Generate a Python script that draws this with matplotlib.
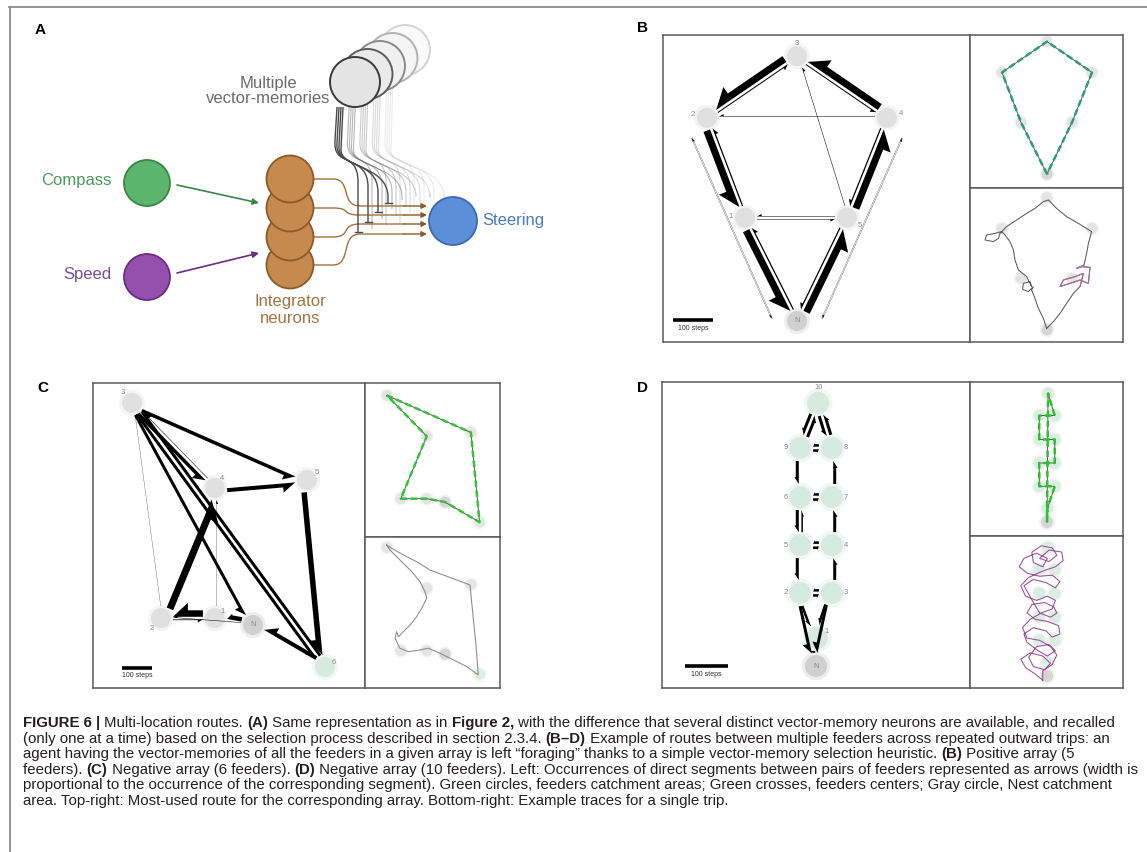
import numpy as np
import matplotlib
matplotlib.use('Agg')
import matplotlib.pyplot as plt
import matplotlib.patches as mpatches
from matplotlib.path import Path

W, H = 1147, 852
plt.rcParams['font.family'] = ['Liberation Sans', 'DejaVu Sans']

# ---------------- data ----------------
# panel A: circuit diagram (pixel layout of the original drawing)
a_inputs = ['Compass', 'Speed']
a_input_y = [183, 277]
a_integrator_y = [179, 208, 237, 265]
a_steer_in_y = [206, 215, 224, 234]
a_inhib_end_y = [232, 222, 212, 203]
a_memory_count = 5

# panel B: positive array (5 feeders), positions in steps, nest at origin
b_names = ['N', '1', '2', '3', '4', '5']
b_x = [0, -130, -225, 0, 225, 125]
b_y = [0, 258, 508, 662, 508, 258]
b_edges = [('3', '2', 28), ('2', '3', 4), ('4', '3', 28), ('3', '4', 4),
           ('2', '1', 28), ('1', '2', 5), ('5', '4', 28), ('4', '5', 5),
           ('1', 'N', 28), ('N', '1', 5), ('N', '5', 28), ('5', 'N', 5),
           ('4', '2', 2), ('1', '5', 2), ('5', '1', 2), ('5', '3', 2),
           ('2', 'N', 1), ('N', '2', 1), ('4', 'N', 1), ('N', '4', 1)]
b_route = ['N', '1', '2', '3', '4', '5', 'N']
b_trace_x = [-2, -18, -43, -60, -77, -68, -93, -122, -118, -85, -77, -102, -143, -160, -168, -185,
             -210, -227, -260, -302, -310, -268, -243, -235, -202, -152, -102, -60, -18, 7, 48, 98,
             157, 223, 207, 198, 185, 148, 173, 215, 207, 165, 65, 82, 140, 182, 165, 132, 98, 65,
             32, -2]
b_trace_y = [8, 58, 108, 158, 200, 217, 192, 203, 233, 242, 217, 267, 300, 350, 400, 442,
             475, 492, 483, 475, 450, 442, 458, 483, 517, 550, 583, 608, 642, 650, 608, 567,
             533, 492, 433, 383, 325, 308, 317, 313, 233, 250, 217, 250, 267, 283, 217, 183, 133, 83,
             42, 8]

# panel C: negative array (6 feeders)
c_names = ['N', '1', '2', '3', '4', '5', '6']
c_x = [0, -127, -307, -403, -127, 180, 240]
c_y = [0, 23, 23, 740, 457, 483, -140]
c_edges = [('3', '5', 14), ('3', '4', 14), ('4', '3', 2), ('4', '5', 16), ('5', '6', 22),
           ('2', '4', 28), ('1', '2', 26), ('2', '1', 3), ('N', '1', 18), ('6', 'N', 16),
           ('3', 'N', 12), ('3', '6', 12), ('6', '3', 12), ('2', '3', 1), ('1', '4', 1),
           ('N', '2', 2)]
c_route = ['3', '5', '6', 'N', '1', '2', '4', '3']
c_trace_x = [-405, -382, -359, -301, -231, -174, -139, -127, -162, -197, -243, -289, -324, -336,
             -347, -313, -255, -174, -116, -35, 58, 150, 231, 224, 215, 201, 185, 174, 81, -12,
             -104, -197, -289, -370, -405]
c_trace_y = [757, 722, 699, 641, 572, 503, 433, 387, 317, 259, 201, 155, 120, 155,
             109, 40, 16, 28, 40, 5, -41, -87, -145, -52, 63, 201, 363, 479, 514, 549,
             583, 641, 688, 734, 757]

# panel D: negative array (10 feeders)
d_names = ['N', '1', '2', '3', '4', '5', '6', '7', '8', '9', '10']
d_x = [0, 2, -37, 37, 37, -37, -37, 37, 37, -37, 5]
d_y = [0, 65, 170, 170, 281, 281, 393, 393, 507, 507, 612]
d_edges = [('10', '9', 12), ('9', '10', 12), ('10', '8', 12), ('8', '10', 12),
           ('9', '8', 10), ('8', '9', 10), ('9', '6', 12), ('7', '8', 12),
           ('6', '7', 10), ('7', '6', 10), ('6', '5', 12), ('5', '6', 6), ('4', '7', 12),
           ('5', '4', 10), ('4', '5', 10), ('5', '2', 12), ('3', '4', 12),
           ('2', '3', 10), ('3', '2', 10), ('2', 'N', 12), ('2', '1', 10), ('3', '1', 10),
           ('3', 'N', 12), ('1', 'N', 16)]
d_route = ['N', '1', '3', '2', '5', '4', '7', '6', '9', '8', '10', 'N']
d_trace_x = [-20, -57, -102, -125, -80, -20, 17, -12, -65, -87, -50, 10, 40, 2, -42, -95, -110,
             -65, -5, 25, 62, 55, 2, -57, -95, -72, -12, 32, 47, 17, -35, -65, -87, -110, -65, -5,
             40, 62, 25, -35, -95, -132, -110, -50, 2, -20, -65, -72, -27, 25, 47, 10, -35, 10, 70,
             77, 40, -20, -87, -125, -102, -50, 2, 40, 25, -27, -80, -117, -95, -35, 17, 47, 25,
             -20, -20]
d_trace_y = [-20, 10, 40, 80, 110, 95, 60, 30, 45, 90, 140, 150, 120, 95, 120, 160, 200, 230, 215,
             185, 200, 240, 260, 270, 300, 340, 350, 330, 300, 280, 300, 350, 390, 430, 460, 445,
             420, 450, 480, 475, 490, 520, 560, 585, 560, 520, 540, 590, 620, 610, 575, 545, 560,
             600, 590, 550, 520, 500, 470, 430, 380, 360, 380, 360, 320, 300, 270, 230, 180, 170,
             140, 100, 55, 25, -20]

caption_lines = [
    [('FIGURE 6 | ', True), ('Multi-location routes. ', False), ('(A)', True),
     (' Same representation as in ', False), ('Figure 2,', True),
     (' with the difference that several distinct vector-memory neurons are available, and recalled', False)],
    [('(only one at a time) based on the selection process described in section 2.3.4. ', False),
     ('(B\u2013D)', True),
     (' Example of routes between multiple feeders across repeated outward trips: an', False)],
    [('agent having the vector-memories of all the feeders in a given array is left \u201cforaging\u201d '
      'thanks to a simple vector-memory selection heuristic. ', False), ('(B)', True),
     (' Positive array (5', False)],
    [('feeders). ', False), ('(C)', True), (' Negative array (6 feeders). ', False), ('(D)', True),
     (' Negative array (10 feeders). Left: Occurrences of direct segments between pairs of feeders '
      'represented as arrows (width is', False)],
    [('proportional to the occurrence of the corresponding segment). Green circles, feeders catchment '
      'areas; Green crosses, feeders centers; Gray circle, Nest catchment', False)],
    [('area. Top-right: Most-used route for the corresponding array. Bottom-right: Example traces for '
      'a single trip.', False)],
]

# ---------------- drawing ----------------
fig = plt.figure(figsize=(W / 100, H / 100), dpi=100)
fig.patch.set_facecolor('white')


def fbox(x0, y0, x1, y1):
    return [x0 / W, 1 - y1 / H, (x1 - x0) / W, (y1 - y0) / H]


fig.add_artist(plt.Line2D([9 / W, 1], [1 - 7 / H, 1 - 7 / H], color='#8c8c8c', lw=1.3))
fig.add_artist(plt.Line2D([10 / W, 10 / W], [1 - 7 / H, 0], color='#8c8c8c', lw=1.3))

for lab, (px, py) in zip('ABCD', [(40, 30), (643, 28), (43, 388), (643, 388)]):
    fig.text(px / W, 1 - py / H, lab, fontsize=11, fontweight='bold', ha='center', va='center')

# ----- panel A -----
axA = fig.add_axes(fbox(12, 12, 625, 345))
axA.set_xlim(12, 625)
axA.set_ylim(345, 12)
axA.axis('off')

brown = '#a5703c'
in_face = ['#5cb56c', '#9550ad']
in_edge = ['#3a8748', '#6a2d84']
in_text = ['#4e9a5e', '#7b4e98']
arrow_end = [203, 253]
for name, y, fc, ec, tc, ye in zip(a_inputs, a_input_y, in_face, in_edge, in_text, arrow_end):
    axA.add_patch(mpatches.Circle((147, y), 23, facecolor=fc, edgecolor=ec, lw=1.3))
    axA.text(111, y - 2, name, ha='right', va='center', fontsize=12, color=tc)
    axA.annotate('', xy=(259, ye), xytext=(177, y + (2 if ye > y else -4)),
                 arrowprops=dict(arrowstyle='-|>', color=ec, lw=1.2, mutation_scale=9,
                                 shrinkA=0, shrinkB=0))

# vector-memory stack and inhibitory links
mem_edge = ['#3a3a3a', '#5c5c5c', '#8a8a8a', '#b2b2b2', '#d4d4d4']
mem_face = ['#e4e4e4', '#eaeaea', '#f0f0f0', '#f5f5f5', '#fafafa']
for j in range(a_memory_count - 1, -1, -1):
    cx, cy = 355 + 12.5 * j, 82 - 8 * j
    if j > 0:
        for k, ey in enumerate(a_inhib_end_y):
            ex = 358 + 10 * k + 14 * j
            sx = 337 + 2 * k + 12.5 * j
            verts = [(sx, 107 - 8 * j), (sx - 2, 140 + 3 * k), (sx - 4, 168), (ex, 150 + 5 * k),
                     (ex, 182 + 5 * k), (ex, ey - 3 * j)]
            codes = [Path.MOVETO, Path.LINETO, Path.CURVE4, Path.CURVE4, Path.CURVE4, Path.LINETO]
            axA.add_patch(mpatches.PathPatch(Path(verts, codes), fc='none', ec=mem_edge[j], lw=0.8,
                                             alpha=0.45, zorder=1))
    axA.add_patch(mpatches.Circle((cx, cy), 25, facecolor=mem_face[j], edgecolor=mem_edge[j],
                                  lw=1.4, zorder=3))
axA.text(268, 91, 'Multiple\nvector-memories', ha='center', va='center', fontsize=12,
         color='#6b6b6b', linespacing=1.05)

for k, ey in enumerate(a_inhib_end_y):
    ex = 358 + 10 * k
    verts = [(337 + 2 * k, 107), (335 + 2 * k, 140 + 3 * k), (333 + 2 * k, 168), (ex, 150 + 5 * k),
             (ex, 182 + 5 * k), (ex, ey)]
    codes = [Path.MOVETO, Path.LINETO, Path.CURVE4, Path.CURVE4, Path.CURVE4, Path.LINETO]
    axA.add_patch(mpatches.PathPatch(Path(verts, codes), fc='none', ec='#4a4a4a', lw=1.0, zorder=4))
    axA.plot([ex - 3.5, ex + 3.5], [ey, ey], color='#4a4a4a', lw=1.0, zorder=4)

# integrator neurons and outputs to steering
for k, (y0, y1) in enumerate(zip(a_integrator_y, a_steer_in_y)):
    verts = [(313, y0), (333, y0), (352, y0), (340, y1), (360, y1), (405, y1)]
    codes = [Path.MOVETO, Path.LINETO, Path.CURVE4, Path.CURVE4, Path.CURVE4, Path.LINETO]
    axA.add_patch(mpatches.PathPatch(Path(verts, codes), fc='none', ec=brown, lw=1.0, zorder=2))
    axA.annotate('', xy=(427, y1), xytext=(404, y1),
                 arrowprops=dict(arrowstyle='-|>', color='#8a5a2a', lw=1.0, mutation_scale=8,
                                 shrinkA=0, shrinkB=0), zorder=2)
for y in a_integrator_y[::-1]:
    axA.add_patch(mpatches.Circle((290, y), 23.5, facecolor='#c68a4e', edgecolor='#8b5a2b',
                                  lw=1.3, zorder=3))
axA.text(290, 294, 'Integrator\nneurons', ha='center', va='top', fontsize=12, color='#a47440',
         linespacing=1.2)

axA.add_patch(mpatches.Circle((453, 221), 24, facecolor='#5b8fd8', edgecolor='#3c69b0', lw=1.3))
axA.text(482, 220, 'Steering', ha='left', va='center', fontsize=12, color='#4b7bc4')


# ----- panels B-D -----
def panel_axes(box, nest_px, s):
    x0, y0, x1, y1 = box
    ax = fig.add_axes(fbox(x0, y0, x1, y1))
    ax.set_xlim((x0 - nest_px[0]) / s, (x1 - nest_px[0]) / s)
    ax.set_ylim((nest_px[1] - y1) / s, (nest_px[1] - y0) / s)
    ax.set_xticks([])
    ax.set_yticks([])
    for sp in ax.spines.values():
        sp.set_color('#5a5a5a')
        sp.set_linewidth(1.1)
    return ax


def draw_nodes(ax, pos, s, r_px, green=(), alpha=1.0):
    for n, (x, y) in pos.items():
        fc = '#d6ebdd' if n in green else ('#d0d0d0' if n == 'N' else '#e0e0e0')
        ax.add_patch(mpatches.Circle((x, y), r_px * 1.3 / s, fc=fc, ec='none', alpha=0.35 * alpha, zorder=1))
        ax.add_patch(mpatches.Circle((x, y), r_px / s, fc=fc, ec='none', alpha=alpha, zorder=1))


def draw_edges(ax, pos, edges, s, r_px, shift=None):
    shift = shift or {}
    for u, v, n in edges:
        p0 = np.array(pos[u], float)
        p1 = np.array(pos[v], float)
        d = p1 - p0
        e = d / np.hypot(*d)
        nrm = np.array([e[1], -e[0]])
        w_px = n * 0.25
        off = (1.3 + shift.get((u, v), 0)) / s
        a = p0 + e * (r_px + 2) / s + nrm * off
        b = p1 - e * (r_px + 2) / s + nrm * off
        seg_px = np.hypot(*(b - a)) * s
        hw = 1.9 * w_px + 1.6 if seg_px > 25 else 1.2 * w_px + 0.8
        hl = min(2.2 * w_px + 3.5, 0.3 * seg_px if seg_px < 25 else 0.5 * seg_px)
        ax.add_patch(mpatches.FancyArrow(a[0], a[1], *(b - a), width=2 * w_px / s,
                                         head_width=2 * hw / s, head_length=hl / s,
                                         length_includes_head=True, shape='left',
                                         fc='black', ec='none', zorder=3))


def draw_labels(ax, pos, s, offsets):
    for n, (x, y) in pos.items():
        dx, dy = offsets.get(n, (0, 0))
        ax.text(x + dx / s, y + dy / s, n, fontsize=5.5, color='#8a8a8a', ha='center', va='center',
                zorder=4)


def scale_bar(ax, x0, y0, s):
    ax.plot([x0, x0 + 100], [y0, y0], color='black', lw=2.6, solid_capstyle='butt', zorder=4)
    ax.text(x0 + 50, y0 - 8 / s, '100 steps', fontsize=5, ha='center', va='center', color='#333333')


def draw_route(ax, pos, route, color):
    xs = [pos[n][0] for n in route]
    ys = [pos[n][1] for n in route]
    ax.plot(xs, ys, color='#5a5a5a', lw=0.7, zorder=2)
    ax.plot(xs, ys, color=color, lw=1.8, dashes=(2.6, 1.4), zorder=3)


def draw_panel(boxes, nests, scales, names, xs, ys, edges, route, route_color, tx, ty, tcolor,
               r_px, green, offsets, bar, shift=None):
    pos = {n: (x, y) for n, x, y in zip(names, xs, ys)}
    ax = panel_axes(boxes[0], nests[0], scales[0])
    draw_nodes(ax, pos, scales[0], r_px, green)
    draw_edges(ax, pos, edges, scales[0], r_px, shift)
    draw_labels(ax, pos, scales[0], offsets)
    scale_bar(ax, bar[0], bar[1], scales[0])
    ax2 = panel_axes(boxes[1], nests[1], scales[1])
    draw_nodes(ax2, pos, scales[1], r_px * 0.55, green, alpha=0.8)
    draw_route(ax2, pos, route, route_color)
    ax3 = panel_axes(boxes[2], nests[2], scales[2])
    draw_nodes(ax3, pos, scales[2], r_px * 0.55, green, alpha=0.8)
    ax3.plot(tx, ty, color=tcolor, lw=0.75, zorder=2)
    return ax3


axB = draw_panel([(663, 35, 970, 342), (970, 35, 1123, 188), (970, 188, 1123, 342)],
                 [(797, 321), (1047, 174), (1047, 330)], [0.4, 0.2, 0.2],
                 b_names, b_x, b_y, b_edges, b_route, '#2a9d78', b_trace_x, b_trace_y, '#5a5a5a',
                 10, (), {'3': (0, 13), '2': (-14, 3), '4': (14, 4), '1': (-14, 1), '5': (13, -8)},
                 (-310, 2), shift={('2', 'N'): 20, ('N', '2'): -24, ('4', 'N'): -24, ('N', '4'): 20})
axB.plot(b_trace_x[36:48], b_trace_y[36:48], color='#b0708e', lw=0.75, zorder=3)

draw_panel([(93, 383, 365, 688), (365, 383, 500, 537), (365, 537, 500, 688)],
           [(253, 625), (445, 502), (445, 654)], [0.3, 0.144, 0.144],
           c_names, c_x, c_y, c_edges, c_route, '#38c038', c_trace_x, c_trace_y, '#8a8a8a',
           10, ('6',), {'3': (-9, 10), '4': (7, 9), '5': (10, 8), '2': (-9, -10), '1': (8, 7), '6': (9, 4)},
           (-437, -143))

draw_panel([(662, 382, 970, 688), (970, 382, 1123, 536), (970, 536, 1123, 688)],
           [(816, 666), (1047, 522), (1047, 676)], [0.43, 0.21, 0.21],
           d_names, d_x, d_y, d_edges, d_route, '#2ec02e', d_trace_x, d_trace_y, '#9a4e9a',
           11, tuple(d_names[1:]),
           {'10': (1, 15), '9': (-14, 0), '6': (-14, 0), '5': (-14, 0), '2': (-14, 0),
            '8': (14, 0), '7': (14, 0), '4': (14, 0), '3': (14, 0), '1': (10, 7)},
           (-305, 0))

# ----- caption with mixed weights -----
renderer = fig.canvas.get_renderer()
cap_size = 10.8


def seg_width(text, bold):
    wt = 'bold' if bold else 'normal'
    t1 = fig.text(0, 0, 'x' + text + 'x', fontsize=cap_size, fontweight=wt)
    t2 = fig.text(0, 0, 'xx', fontsize=cap_size, fontweight=wt)
    w = t1.get_window_extent(renderer).width - t2.get_window_extent(renderer).width
    t1.remove()
    t2.remove()
    return w


for i, line in enumerate(caption_lines):
    x = 23.0
    y = 727 + 15.6 * i
    for text, bold in line:
        fig.text(x / W, 1 - y / H, text, fontsize=cap_size, fontweight='bold' if bold else 'normal',
                 color='#231f20', ha='left', va='baseline')
        x += seg_width(text, bold)

fig.savefig('out.png', dpi=100, facecolor='white')
